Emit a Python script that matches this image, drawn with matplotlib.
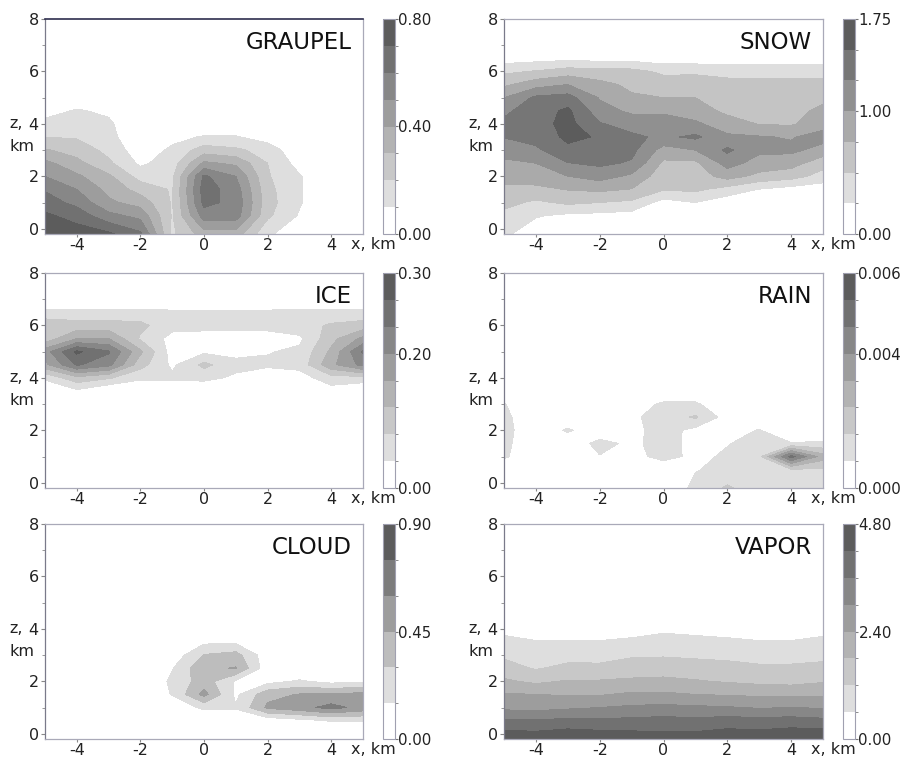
import numpy as np
import matplotlib
matplotlib.use('Agg')
import matplotlib.pyplot as plt
from matplotlib.transforms import blended_transform_factory

# grid: x across the section, z height (km)
x_km = [-5, -4, -3, -2, -1, 0, 1, 2, 3, 4, 5]
z_km = [-0.2, 0.5, 1.0, 1.5, 2.0, 2.5, 3.0, 3.5, 4.0, 4.5, 5.0, 5.5, 6.0, 6.5, 7.0, 7.5, 8.0]

# every field is written top row first (z = 8 km) down to the ground row
graupel = [
    [0, 0, 0, 0, 0, 0, 0, 0, 0, 0, 0],
    [0, 0, 0, 0, 0, 0, 0, 0, 0, 0, 0],
    [0, 0, 0, 0, 0, 0, 0, 0, 0, 0, 0],
    [0, 0, 0, 0, 0, 0, 0, 0, 0, 0, 0],
    [0, 0, 0, 0, 0, 0, 0, 0, 0, 0, 0],
    [0, 0, 0, 0, 0, 0, 0, 0, 0, 0, 0],
    [0.00, 0.03, 0.00, 0, 0, 0, 0, 0, 0, 0, 0],
    [0.06, 0.11, 0.08, 0, 0, 0, 0, 0, 0, 0, 0],
    [0.13, 0.14, 0.12, 0, 0, 0, 0, 0, 0, 0, 0],
    [0.20, 0.19, 0.14, 0.00, 0.07, 0.11, 0.11, 0.05, 0.00, 0, 0],
    [0.31, 0.26, 0.17, 0.04, 0.12, 0.25, 0.22, 0.16, 0.02, 0, 0],
    [0.43, 0.33, 0.22, 0.08, 0.15, 0.42, 0.38, 0.20, 0.06, 0, 0],
    [0.50, 0.42, 0.32, 0.16, 0.18, 0.62, 0.50, 0.21, 0.11, 0, 0],
    [0.59, 0.50, 0.37, 0.26, 0.19, 0.65, 0.55, 0.23, 0.11, 0, 0],
    [0.65, 0.57, 0.42, 0.36, 0.19, 0.63, 0.57, 0.24, 0.11, 0, 0],
    [0.72, 0.66, 0.53, 0.47, 0.19, 0.55, 0.55, 0.22, 0.09, 0, 0],
    [0.76, 0.75, 0.72, 0.62, 0.18, 0.35, 0.35, 0.12, 0.02, 0, 0],
]

snow = [
    [0, 0, 0, 0, 0, 0, 0, 0, 0, 0, 0],
    [0, 0, 0, 0, 0, 0, 0, 0, 0, 0, 0],
    [0, 0, 0, 0, 0, 0, 0, 0, 0, 0, 0],
    [0.12, 0.15, 0.18, 0.15, 0.15, 0.10, 0.10, 0.10, 0.10, 0.10, 0.10],
    [0.45, 0.52, 0.62, 0.60, 0.58, 0.45, 0.45, 0.42, 0.42, 0.42, 0.40],
    [0.70, 0.90, 1.00, 0.82, 0.70, 0.62, 0.65, 0.58, 0.57, 0.57, 0.60],
    [1.00, 1.30, 1.35, 0.98, 0.78, 0.75, 0.75, 0.65, 0.64, 0.63, 0.70],
    [1.20, 1.38, 1.55, 1.10, 0.95, 0.95, 0.85, 0.70, 0.68, 0.68, 0.80],
    [1.30, 1.40, 1.58, 1.27, 1.15, 1.15, 1.05, 0.85, 0.74, 0.72, 0.90],
    [1.26, 1.35, 1.55, 1.48, 1.30, 1.20, 1.30, 1.05, 1.02, 0.98, 1.10],
    [1.10, 1.20, 1.45, 1.40, 1.32, 0.90, 1.00, 1.30, 1.05, 1.06, 0.90],
    [0.95, 1.00, 1.24, 1.30, 1.22, 0.70, 0.70, 1.10, 0.90, 0.85, 0.60],
    [0.82, 0.85, 1.00, 1.10, 0.95, 0.60, 0.62, 0.85, 0.68, 0.60, 0.40],
    [0.70, 0.70, 0.76, 0.80, 0.74, 0.52, 0.55, 0.40, 0.24, 0.15, 0.10],
    [0.58, 0.45, 0.55, 0.50, 0.45, 0.15, 0.25, 0.10, 0.00, 0.00, 0.00],
    [0.42, 0.27, 0.20, 0.18, 0.15, 0.00, 0.00, 0.00, 0.00, 0.00, 0.00],
    [0.30, 0.10, 0.05, 0.00, 0.00, 0.00, 0.00, 0.00, 0.00, 0.00, 0.00],
]

ice = [
    [0, 0, 0, 0, 0, 0, 0, 0, 0, 0, 0],
    [0, 0, 0, 0, 0, 0, 0, 0, 0, 0, 0],
    [0, 0, 0, 0, 0, 0, 0, 0, 0, 0, 0],
    [0.05, 0.05, 0.05, 0.05, 0.045, 0.045, 0.045, 0.045, 0.05, 0.05, 0.05],
    [0.10, 0.09, 0.09, 0.085, 0.05, 0.05, 0.05, 0.05, 0.06, 0.08, 0.09],
    [0.09, 0.15, 0.15, 0.07, 0.025, 0.02, 0.02, 0.02, 0.03, 0.10, 0.16],
    [0.17, 0.27, 0.23, 0.12, 0.02, 0.03, 0.025, 0.035, 0.045, 0.12, 0.23],
    [0.14, 0.23, 0.20, 0.09, 0.03, 0.085, 0.05, 0.045, 0.05, 0.14, 0.20],
    [0.045, 0.10, 0.08, 0.045, 0.045, 0.05, 0.03, 0.01, 0.02, 0.06, 0.06],
    [0, 0.03, 0, 0, 0, 0, 0, 0, 0, 0.02, 0],
    [0, 0, 0, 0, 0, 0, 0, 0, 0, 0, 0],
    [0, 0, 0, 0, 0, 0, 0, 0, 0, 0, 0],
    [0, 0, 0, 0, 0, 0, 0, 0, 0, 0, 0],
    [0, 0, 0, 0, 0, 0, 0, 0, 0, 0, 0],
    [0, 0, 0, 0, 0, 0, 0, 0, 0, 0, 0],
    [0, 0, 0, 0, 0, 0, 0, 0, 0, 0, 0],
    [0, 0, 0, 0, 0, 0, 0, 0, 0, 0, 0],
]

rain = [
    [0, 0, 0, 0, 0, 0, 0, 0, 0, 0, 0],
    [0, 0, 0, 0, 0, 0, 0, 0, 0, 0, 0],
    [0, 0, 0, 0, 0, 0, 0, 0, 0, 0, 0],
    [0, 0, 0, 0, 0, 0, 0, 0, 0, 0, 0],
    [0, 0, 0, 0, 0, 0, 0, 0, 0, 0, 0],
    [0, 0, 0, 0, 0, 0, 0, 0, 0, 0, 0],
    [0, 0, 0, 0, 0, 0, 0, 0, 0, 0, 0],
    [0, 0, 0, 0, 0, 0, 0, 0, 0, 0, 0],
    [0, 0, 0, 0, 0, 0, 0, 0, 0, 0, 0],
    [0, 0, 0, 0, 0, 0, 0, 0, 0, 0, 0],
    [0.0008, 0, 0, 0, 0.0003, 0.0009, 0.0009, 0, 0, 0, 0],
    [0.0010, 0, 0, 0, 0.0006, 0.0011, 0.0016, 0.0004, 0.0003, 0, 0],
    [0.0011, 0, 0.0009, 0, 0.0005, 0.0011, 0.0005, 0.0004, 0.0008, 0, 0],
    [0.0010, 0, 0, 0.0011, 0.0005, 0.0012, 0.0004, 0.0007, 0.0011, 0.0008, 0.0009],
    [0.0009, 0, 0, 0.0007, 0.0004, 0.0011, 0.0005, 0.0009, 0.0013, 0.0048, 0.0026],
    [0, 0, 0, 0, 0, 0, 0.0007, 0.0010, 0.0012, 0.0014, 0.0014],
    [0, 0, 0, 0, 0, 0, 0.0010, 0.0016, 0.0011, 0.0012, 0.0011],
]

cloud = [
    [0, 0, 0, 0, 0, 0, 0, 0, 0, 0, 0],
    [0, 0, 0, 0, 0, 0, 0, 0, 0, 0, 0],
    [0, 0, 0, 0, 0, 0, 0, 0, 0, 0, 0],
    [0, 0, 0, 0, 0, 0, 0, 0, 0, 0, 0],
    [0, 0, 0, 0, 0, 0, 0, 0, 0, 0, 0],
    [0, 0, 0, 0, 0, 0, 0, 0, 0, 0, 0],
    [0, 0, 0, 0, 0, 0, 0, 0, 0, 0, 0],
    [0, 0, 0, 0, 0, 0, 0, 0, 0, 0, 0],
    [0, 0, 0, 0, 0, 0, 0, 0, 0, 0, 0],
    [0, 0, 0, 0, 0, 0.12, 0.12, 0, 0, 0, 0],
    [0, 0, 0, 0, 0.05, 0.31, 0.36, 0.05, 0, 0, 0],
    [0, 0, 0, 0, 0.14, 0.42, 0.46, 0.05, 0, 0, 0],
    [0, 0, 0, 0, 0.18, 0.38, 0.13, 0.10, 0.17, 0.10, 0.13],
    [0, 0, 0, 0, 0.16, 0.50, 0.12, 0.40, 0.46, 0.47, 0.50],
    [0, 0, 0, 0, 0.05, 0.18, 0.16, 0.48, 0.55, 0.65, 0.55],
    [0, 0, 0, 0, 0, 0, 0.08, 0.05, 0.10, 0.16, 0.16],
    [0, 0, 0, 0, 0, 0, 0, 0, 0, 0, 0],
]

vapor = [
    [0, 0, 0, 0, 0, 0, 0, 0, 0, 0, 0],
    [0, 0, 0, 0, 0, 0, 0, 0, 0, 0, 0],
    [0, 0, 0, 0, 0, 0, 0, 0, 0, 0, 0],
    [0, 0, 0, 0, 0, 0, 0, 0, 0, 0, 0],
    [0, 0, 0, 0, 0, 0, 0, 0, 0, 0, 0],
    [0, 0, 0, 0, 0, 0, 0, 0, 0, 0, 0],
    [0, 0, 0, 0, 0, 0, 0, 0, 0, 0, 0],
    [0, 0, 0, 0, 0, 0.1, 0.1, 0, 0, 0, 0],
    [0.45, 0.20, 0.20, 0.20, 0.35, 0.50, 0.45, 0.35, 0.20, 0.20, 0.40],
    [0.75, 0.65, 0.65, 0.65, 0.72, 0.80, 0.75, 0.72, 0.65, 0.65, 0.75],
    [1.10, 0.95, 0.98, 0.97, 1.12, 1.15, 1.10, 1.05, 0.98, 0.98, 1.05],
    [1.43, 1.15, 1.35, 1.35, 1.50, 1.50, 1.45, 1.40, 1.30, 1.30, 1.35],
    [1.90, 1.68, 1.85, 1.85, 1.90, 1.95, 1.85, 1.75, 1.65, 1.60, 1.75],
    [2.45, 2.40, 2.35, 2.35, 2.50, 2.50, 2.40, 2.35, 2.30, 2.30, 2.30],
    [2.85, 2.80, 2.90, 3.00, 3.10, 3.15, 3.10, 3.05, 2.95, 3.00, 2.95],
    [3.70, 3.65, 3.75, 3.70, 3.75, 3.80, 3.75, 3.85, 3.80, 3.85, 3.75],
    [4.65, 4.60, 4.75, 4.65, 4.55, 4.50, 4.50, 4.65, 4.60, 4.75, 4.75],
]

names = ['GRAUPEL', 'SNOW', 'ICE', 'RAIN', 'CLOUD', 'VAPOR']
fields = [graupel, snow, ice, rain, cloud, vapor]
scale_max = [0.80, 1.75, 0.30, 0.006, 0.90, 4.80]
n_bands = [8, 7, 8, 8, 6, 8]
cbar_ticks = [[0, 0.4, 0.8], [0, 1.0, 1.75], [0, 0.1875, 0.3],
              [0, 0.00375, 0.006], [0, 0.45, 0.9], [0, 2.4, 4.8]]
cbar_labels = [['0.00', '0.40', '0.80'], ['0.00', '1.00', '1.75'],
               ['0.00', '0.20', '0.30'], ['0.000', '0.004', '0.006'],
               ['0.00', '0.45', '0.90'], ['0.00', '2.40', '4.80']]

W, H = 905, 760
fig = plt.figure(figsize=(W / 100, H / 100), dpi=100)


def px_rect(x0, x1, y0, y1):
    return [x0 / W, 1 - y1 / H, (x1 - x0) / W, (y1 - y0) / H]


col_ax = [(45, 363), (504, 823)]
col_cb = [(383, 395), (843, 855)]
row_y = [(19, 234), (273, 488), (524, 739)]

frame_col = '#a9a9b8'
text_col = '#222222'

for i in range(6):
    r, c = divmod(i, 2)
    ax = fig.add_axes(px_rect(col_ax[c][0], col_ax[c][1], row_y[r][0], row_y[r][1]))
    cax = fig.add_axes(px_rect(col_cb[c][0], col_cb[c][1], row_y[r][0], row_y[r][1]))

    data = np.array(fields[i][::-1], dtype=float)
    levels = np.linspace(0, scale_max[i], n_bands[i] + 1)
    greys = ['white'] + [str(g) for g in np.linspace(0.87, 0.36, n_bands[i] - 1)]
    cs = ax.contourf(x_km, z_km, data, levels=levels, colors=greys)

    ax.set_xlim(-5, 5)
    ax.set_ylim(-0.2, 8)
    ax.set_xticks([-4, -2, 0, 2, 4])
    ax.set_xticklabels(['-4', '-2', '0', '2', '4'])
    ax.set_yticks([0, 2, 4, 6, 8])
    ax.set_yticks([1, 3, 5, 7], minor=True)
    ax.tick_params(labelsize=11.5, labelcolor=text_col, color='#888888',
                   length=3, pad=1.5)
    ax.tick_params(axis='x', length=2, pad=0.8)
    ax.tick_params(which='minor', length=2, color='#888888')
    for s in ax.spines.values():
        s.set_color(frame_col)
        s.set_linewidth(0.9)
    ax.spines['left'].set_color('#7a7a8a')
    if i == 0:
        ax.spines['top'].set_color('#2e2e4e')
        ax.spines['top'].set_linewidth(1.2)

    ax.text(0.965, 0.945, names[i], transform=ax.transAxes, ha='right', va='top',
            fontsize=16.5, color='#111111')

    ty = blended_transform_factory(ax.transAxes, ax.transData)
    ax.text(-0.112, 4.0, 'z,', transform=ty, ha='left', va='center',
            fontsize=11.5, color=text_col)
    ax.text(-0.112, 3.15, 'km', transform=ty, ha='left', va='center',
            fontsize=11.5, color=text_col)
    tx = blended_transform_factory(ax.transData, ax.transAxes)
    ax.text(4.63, -0.012, 'x, km', transform=tx, ha='left', va='top',
            fontsize=11.5, color=text_col, clip_on=False)

    cb = fig.colorbar(cs, cax=cax, ticks=cbar_ticks[i])
    cb.ax.set_yticklabels(cbar_labels[i])
    cb.ax.yaxis.set_ticks(levels, minor=True)
    cb.ax.tick_params(labelsize=10.8, labelcolor=text_col, color='#777777',
                      length=2, pad=0.5)
    cb.ax.tick_params(which='minor', length=2, color='#777777')
    cb.outline.set_edgecolor('#a0a0b0')
    cb.outline.set_linewidth(0.8)

fig.savefig('out.png', dpi=100)
